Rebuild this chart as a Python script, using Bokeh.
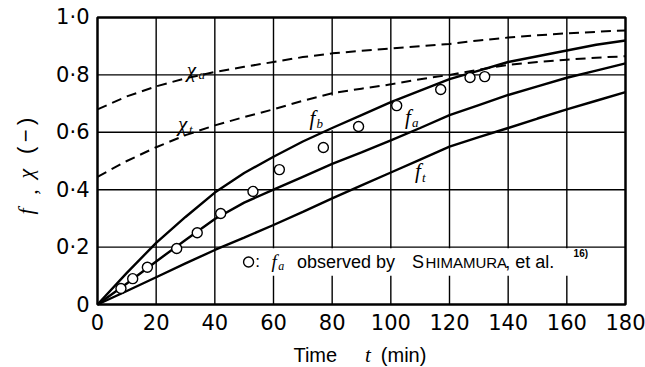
from math import pi

from bokeh.plotting import figure
from bokeh.models import Range1d, FixedTicker, Label, LinearAxis
from bokeh.embed import file_html
from bokeh.resources import INLINE

# ---- data -------------------------------------------------------------
time_min = [0, 10, 20, 30, 40, 50, 60, 70, 80, 90, 100, 110, 120, 130, 140, 150, 160, 170, 180]

f_b = [0.0, 0.11, 0.215, 0.305, 0.39, 0.458, 0.515, 0.568, 0.615, 0.66, 0.705, 0.745, 0.785,
       0.815, 0.845, 0.865, 0.885, 0.905, 0.92]
f_a = [0.0, 0.073, 0.15, 0.225, 0.298, 0.355, 0.40, 0.445, 0.49, 0.53, 0.572, 0.615, 0.66,
       0.695, 0.73, 0.76, 0.79, 0.815, 0.84]
f_t = [0.0, 0.047, 0.095, 0.143, 0.19, 0.233, 0.277, 0.323, 0.37, 0.415, 0.46, 0.505, 0.55,
       0.583, 0.615, 0.648, 0.68, 0.71, 0.74]
chi_a = [0.68, 0.725, 0.76, 0.788, 0.81, 0.828, 0.845, 0.862, 0.875, 0.884, 0.892, 0.90,
         0.908, 0.92, 0.93, 0.938, 0.945, 0.95, 0.955]
chi_t = [0.445, 0.50, 0.548, 0.59, 0.624, 0.653, 0.68, 0.71, 0.736, 0.752, 0.767, 0.785,
         0.80, 0.818, 0.835, 0.845, 0.853, 0.86, 0.865]

# f_a observed by Shimamura et al.
obs_time = [8, 12, 17, 27, 34, 42, 53, 62, 77, 89, 102, 117, 127, 132]
obs_f_a = [0.056, 0.09, 0.13, 0.195, 0.25, 0.317, 0.394, 0.47, 0.547, 0.62, 0.693, 0.749,
           0.791, 0.794]

x_ticks = [0, 20, 40, 60, 80, 100, 120, 140, 160, 180]
y_ticks = [0, 0.2, 0.4, 0.6, 0.8, 1.0]
y_tick_labels = ["0", "0·2", "0·4", "0·6", "0·8", "1·0"]

T_MIN, T_MAX = 0, 180
V_MIN, V_MAX = 0.0, 1.0

# ---- figure -----------------------------------------------------------
# The data area spans the whole canvas; the plotting box (0..180, 0..1) sits inside it,
# so titles and notes around the box can be placed with ordinary labels.
p = figure(width=645, height=367,
           x_range=Range1d(-33.068, 186.818), y_range=Range1d(-0.2195, 1.0592),
           x_axis_type=None, y_axis_type=None,
           output_backend="svg", toolbar_location=None,
           min_border=0, background_fill_color="white", border_fill_color="white")
p.outline_line_color = None

TICK_FONT = "DejaVu Sans"
xaxis = LinearAxis(fixed_location=0, ticker=FixedTicker(ticks=x_ticks))
yaxis = LinearAxis(fixed_location=0, ticker=FixedTicker(ticks=y_ticks))
yaxis.major_label_overrides = {v: s for v, s in zip(y_ticks, y_tick_labels)}
for ax in (xaxis, yaxis):
    ax.axis_line_color = None
    ax.major_tick_line_color = None
    ax.minor_tick_line_color = None
    ax.major_tick_out = 0
    ax.major_tick_in = 0
    ax.major_label_text_font = TICK_FONT
    ax.major_label_text_font_size = "21px"
    ax.major_label_text_color = "black"
xaxis.major_label_standoff = 9
yaxis.major_label_standoff = 8
p.add_layout(xaxis, "below")
p.add_layout(yaxis, "left")

# grid rules at every tick, confined to the plotting box
inner_x = [t for t in x_ticks if T_MIN < t < T_MAX]
inner_y = [v for v in y_ticks if V_MIN < v < V_MAX]
p.segment(x0=inner_x, y0=[V_MIN] * len(inner_x), x1=inner_x, y1=[V_MAX] * len(inner_x),
          line_color="black", line_width=1.4)
p.segment(x0=[T_MIN] * len(inner_y), y0=inner_y, x1=[T_MAX] * len(inner_y), y1=inner_y,
          line_color="black", line_width=1.4)

# white panel behind the key text, and the short break in the t = 80 rule
p.quad(left=46, right=179.3, bottom=0.1, top=0.196, fill_color="white", line_color=None)
p.segment(x0=[80], y0=[0.607], x1=[80], y1=[0.728], line_color="white", line_width=3)

# box frame
p.quad(left=T_MIN, right=T_MAX, bottom=V_MIN, top=V_MAX, fill_color=None,
       line_color="black", line_width=2.5)

# ---- curves -----------------------------------------------------------
for ys in (f_b, f_a, f_t):
    p.line(time_min, ys, line_color="black", line_width=2.4)
for ys in (chi_a, chi_t):
    p.line(time_min, ys, line_color="black", line_width=2.0, line_dash="10 6")

p.scatter(obs_time, obs_f_a, marker="circle", size=10, fill_color="white",
          line_color="black", line_width=1.4)


def lab(x, y, text, size, font="Liberation Sans", style="normal", align="left",
        baseline="middle", angle=0.0):
    p.add_layout(Label(x=x, y=y, text=text, text_font=font, text_font_size=f"{size}px",
                       text_font_style=style, text_align=align, text_baseline=baseline,
                       text_color="black", angle=angle))


SERIF = "Liberation Serif"
SANS = "Liberation Sans"
# curve names with subscripts
lab(32.0, 0.818, "χ", 21, SERIF, "italic", "center")
lab(34.4, 0.802, "a", 13, SERIF, "italic", "left")
lab(29.0, 0.628, "χ", 21, SERIF, "italic", "center")
lab(31.2, 0.610, "t", 13, SERIF, "italic", "left")
lab(73.3, 0.650, "f", 21, SERIF, "italic", "center")
lab(74.7, 0.630, "b", 13, SERIF, "italic", "left")
lab(105.8, 0.654, "f", 21, SERIF, "italic", "center")
lab(107.2, 0.634, "a", 13, SERIF, "italic", "left")
lab(109.2, 0.464, "f", 21, SERIF, "italic", "center")
lab(110.6, 0.444, "t", 13, SERIF, "italic", "left")

# key
p.scatter([51.5], [0.148], marker="circle", size=10, fill_color="white",
          line_color="black", line_width=1.4)
lab(54.6, 0.150, ":", 17, SANS, "normal", "center")
lab(60.2, 0.150, "f", 19, SERIF, "italic", "center")
lab(61.6, 0.134, "a", 12, SERIF, "italic", "left")
lab(68.0, 0.148, "observed  by", 18, SANS, "normal", "left")
lab(107.2, 0.148, "S", 18, SANS, "normal", "left")
lab(111.8, 0.146, "HIMAMURA", 15, SANS, "normal", "left")
lab(139.0, 0.148, ",  et  al.", 18, SANS, "normal", "left")
lab(162.3, 0.178, "16)", 10, SANS, "bold", "left")

# axis titles
lab(66.8, -0.175, "Time", 20, SANS, "normal", "left", "middle")
lab(91.2, -0.175, "t", 21, SERIF, "italic", "left", "middle")
lab(96.6, -0.175, "(min)", 20, SANS, "normal", "left", "middle")

# vertical title "f, χ (−)", reading upwards
lab(-24.5, 0.324, "f", 22, SERIF, "italic", "center", "middle", pi / 2)
lab(-23.0, 0.392, ",", 22, SERIF, "normal", "center", "middle", pi / 2)
lab(-24.5, 0.456, "χ", 22, SERIF, "italic", "center", "middle", pi / 2)
lab(-24.5, 0.588, "(\u2009−\u2009)", 22, SANS, "normal", "center", "middle", pi / 2)

open("out.html", "w").write(file_html(p, INLINE))
